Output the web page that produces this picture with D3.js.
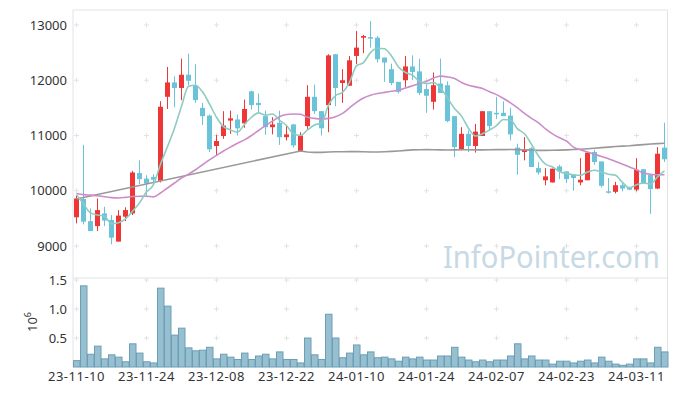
<!DOCTYPE html>
<html>
<head>
<meta charset="utf-8">
<script src="https://cdn.jsdelivr.net/npm/d3@7"></script>
<style>
  body { margin: 0; background: #fff; }
  text { font-family: "Noto Sans", sans-serif; }
</style>
</head>
<body>
<div id="chart"></div>
<script>
// Data
const dates = [
  '23-11-10','23-11-13','23-11-14','23-11-15','23-11-16','23-11-17','23-11-20','23-11-21','23-11-22','23-11-23',
  '23-11-24','23-11-27','23-11-28','23-11-29','23-11-30','23-12-01','23-12-04','23-12-05','23-12-06','23-12-07',
  '23-12-08','23-12-11','23-12-12','23-12-13','23-12-14','23-12-15','23-12-18','23-12-19','23-12-20','23-12-21',
  '23-12-22','23-12-26','23-12-27','23-12-28','24-01-02','24-01-03','24-01-04','24-01-05','24-01-08','24-01-09',
  '24-01-10','24-01-11','24-01-12','24-01-15','24-01-16','24-01-17','24-01-18','24-01-19','24-01-22','24-01-23',
  '24-01-24','24-01-25','24-01-26','24-01-29','24-01-30','24-01-31','24-02-01','24-02-02','24-02-05','24-02-06',
  '24-02-07','24-02-08','24-02-13','24-02-14','24-02-15','24-02-16','24-02-19','24-02-20','24-02-21','24-02-22',
  '24-02-23','24-02-26','24-02-27','24-02-28','24-02-29','24-03-04','24-03-05','24-03-06','24-03-07','24-03-08',
  '24-03-11','24-03-12','24-03-13','24-03-14','24-03-15'
]
const open = [
  9520,9850,9450,9360,9590,9470,9080,9530,9590,10320,
  10220,10250,10180,11700,11960,11860,12100,11900,11500,11360,
  10810,10990,11270,11290,11220,11800,11590,11350,11150,11230,
  10970,11200,10720,11170,11700,11440,11550,12470,11950,11900,
  12440,12770,12780,12770,12410,12200,11970,12000,12250,12160,
  11840,11610,11940,11910,11350,10740,11030,10810,10990,11440,
  11410,11410,11360,10780,10700,10770,10410,10190,10150,10440,
  10350,10290,10150,10190,10700,10530,9990,9980,10100,10070,
  10020,10390,10290,10040,10780
]
const high = [
  9910,10830,9680,9860,9710,9560,9650,9700,10360,10550,
  10280,10300,11620,12240,12070,12390,12480,12290,11590,11380,
  11010,11440,11450,11380,11650,11810,11760,11450,11330,11450,
  11190,11210,11060,11910,11920,11440,12470,12470,12200,12440,
  12890,12820,13070,12800,12410,12300,11970,12440,12450,12390,
  11940,12140,12390,11980,11350,11150,11090,11210,11440,11440,
  11700,11620,11500,10850,10970,10790,10520,10410,10400,10470,
  10350,10290,10590,10700,10740,10530,10230,10160,10150,10070,
  10590,10390,10290,10790,11230
]
const low = [
  9410,9390,9270,9270,9360,9030,9080,9450,9560,10120,
  9910,10140,10150,11480,11510,11640,11910,11590,11190,10700,
  10640,10940,11030,11000,11140,11470,11420,11010,11020,10830,
  10910,10780,10710,11120,11390,11000,11060,11530,11590,11900,
  12290,12490,12590,12320,11970,11910,11760,11880,12000,11730,
  11410,11470,11770,11240,10610,10730,10700,10690,10990,11090,
  11300,11350,10910,10290,10550,10430,10290,10100,10150,10210,
  10140,10000,10100,10190,10470,10060,9950,9950,9990,10010,
  9990,10120,9580,10030,10520
]
const close = [
  9860,9440,9270,9650,9460,9150,9550,9650,10330,10210,
  10130,10200,11520,11960,11860,12100,11990,11640,11350,10750,
  10900,11180,11310,11130,11480,11550,11550,11150,11200,10970,
  11020,10820,11000,11700,11440,11130,12450,11860,12000,12360,
  12590,12800,12760,12380,12320,11950,11790,12250,12150,11770,
  11720,11910,11770,11260,10790,11030,10810,11070,11440,11170,
  11400,11350,11020,10650,10750,10430,10330,10260,10400,10350,
  10210,10230,10200,10690,10520,10090,9970,10100,10040,10020,
  10380,10140,10030,10670,10570
]
const volume = [
  0.11,1.40,0.22,0.36,0.14,0.21,0.17,0.09,0.40,0.24,
  0.09,0.07,1.36,1.05,0.55,0.67,0.33,0.28,0.29,0.34,
  0.14,0.22,0.17,0.13,0.24,0.13,0.19,0.22,0.14,0.26,
  0.13,0.13,0.07,0.50,0.21,0.13,0.91,0.50,0.16,0.24,
  0.38,0.21,0.26,0.16,0.17,0.14,0.10,0.17,0.14,0.17,
  0.12,0.12,0.19,0.19,0.34,0.17,0.12,0.09,0.12,0.09,
  0.12,0.12,0.19,0.40,0.14,0.19,0.12,0.12,0.05,0.10,
  0.10,0.07,0.10,0.12,0.07,0.17,0.10,0.05,0.03,0.05,
  0.14,0.14,0.07,0.34,0.26
].map(v => v * 1e6)
const ma5 = [
  9930,9760,9600,9560,9540,9400,9420,9490,9630,9780,
  9980,10110,10480,10800,11130,11530,11890,11910,11790,11570,
  11330,11160,11100,11060,11200,11330,11410,11370,11390,11280,
  11180,11030,11000,11100,11190,11220,11550,11720,11780,11960,
  12260,12320,12500,12580,12570,12440,12240,12140,12090,11980,
  11940,11960,11860,11680,11490,11350,11130,10990,11030,11100,
  11180,11290,11280,11120,11030,10840,10630,10480,10430,10350,
  10310,10290,10280,10340,10370,10340,10300,10280,10150,10050,
  10110,10140,10120,10250,10360
]
const ma20 = [
  9950,9930,9920,9910,9890,9875,9870,9880,9895,9900,
  9900,9890,9960,10050,10140,10230,10300,10380,10470,10560,
  10640,10720,10790,10860,10920,11000,11090,11180,11260,11340,
  11380,11390,11385,11330,11310,11300,11310,11340,11400,11500,
  11600,11680,11730,11760,11780,11800,11820,11860,11900,11940,
  11980,12040,12075,12060,12030,11960,11910,11880,11850,11790,
  11740,11670,11590,11500,11400,11310,11230,11120,11030,10960,
  10900,10790,10740,10700,10660,10620,10580,10530,10480,10430,
  10380,10320,10300,10290,10290
]
// long average: no values between the first bar and 23-12-27
const ma60 = [
  9850,null,null,null,null,null,null,null,null,null,
  null,null,null,null,null,null,null,null,null,null,
  null,null,null,null,null,null,null,null,null,null,
  null,null,10720,10700,10695,10695,10700,10705,10705,10708,
  10710,10705,10700,10700,10705,10712,10720,10730,10740,10742,
  10745,10742,10740,10738,10740,10742,10742,10740,10740,10742,
  10745,10745,10746,10745,10740,10735,10730,10730,10732,10735,
  10740,10746,10752,10760,10770,10780,10790,10800,10808,10815,
  10825,10835,10845,10852,10860
]
const tickDates = ['23-11-10','23-11-24','23-12-08','23-12-22','24-01-10','24-01-24','24-02-07','24-02-23','24-03-11']
const priceTicks = [9000, 10000, 11000, 12000, 13000]
const volTicks = [0.5e6, 1e6, 1.5e6]

function draw() {
  const dimensions = {
    width: 677,
    height: 396,
    left: 73,
    right: 668,
    top: 10,
    split: 278,
    bottom: 367
  }
  const bars = dates.map((d, i) => ({
    date: d, o: open[i], h: high[i], l: low[i], c: close[i], v: volume[i]
  }))

  const svg = d3.select('#chart')
    .append('svg')
    .attr('width', dimensions.width)
    .attr('height', dimensions.height)

  // Scales
  const xScale = d3.scaleBand()
    .domain(dates)
    .range([dimensions.left, dimensions.right])
  const xc = d => xScale(d) + xScale.bandwidth() / 2
  const yScale = d3.scaleLinear()
    .domain([8421, 13271])
    .range([dimensions.split, dimensions.top])
  const vScale = d3.scaleLinear()
    .domain([0, 1.535e6])
    .range([dimensions.bottom, dimensions.split])

  // watermark
  svg.append('text')
    .attr('x', 443)
    .attr('y', 268)
    .attr('textLength', 217)
    .attr('lengthAdjust', 'spacingAndGlyphs')
    .style('font-size', '31px')
    .style('fill', '#c6d9e4')
    .text('InfoPointer.com')

  // frame
  const frame = svg.append('g')
    .attr('stroke', '#e3e3e3')
    .attr('fill', 'none')
  frame.append('path')
    .attr('d', `M${dimensions.left},${dimensions.bottom}V${dimensions.top}H${dimensions.right - 0.5}V${dimensions.bottom}`)
  frame.append('line')
    .attr('x1', dimensions.left).attr('x2', dimensions.right)
    .attr('y1', dimensions.split).attr('y2', dimensions.split)

  // grid crosses
  const gridYs = priceTicks.map(yScale).concat(volTicks.map(vScale))
  const grid = svg.append('g').attr('stroke', '#e2e2e2')
  tickDates.forEach(d => {
    gridYs.forEach(y => {
      const x = xc(d)
      grid.append('path').attr('d', `M${x - 2.5},${y}H${x + 2.5}M${x},${y - 2.5}V${y + 2.5}`)
    })
  })

  // volume bars
  svg.append('g')
    .selectAll('rect')
    .data(bars)
    .join('rect')
    .attr('x', d => xScale(d.date) + 0.5)
    .attr('y', d => vScale(d.v))
    .attr('width', xScale.bandwidth() - 0.5)
    .attr('height', d => dimensions.bottom - vScale(d.v))
    .attr('fill', '#98bfd0')
    .attr('stroke', '#6b9fb6')
    .attr('stroke-width', 1)

  // candles
  const up = '#ee3636'
  const down = '#6ac3d8'
  const candles = svg.append('g')
    .selectAll('g')
    .data(bars)
    .join('g')
  candles.append('line')
    .attr('x1', d => xc(d.date))
    .attr('x2', d => xc(d.date))
    .attr('y1', d => yScale(d.h))
    .attr('y2', d => yScale(d.l))
    .attr('stroke', d => d.c >= d.o ? up : down)
    .attr('stroke-width', 1)
  candles.append('rect')
    .attr('x', d => xc(d.date) - 2.5)
    .attr('width', 5)
    .attr('y', d => yScale(Math.max(d.o, d.c)))
    .attr('height', d => Math.max(1.5, Math.abs(yScale(d.o) - yScale(d.c))))
    .attr('fill', d => d.c >= d.o ? up : down)

  // moving averages
  const series = [
    { values: ma60, color: '#999999', curve: d3.curveLinear },
    { values: ma20, color: '#cc8cc9', curve: d3.curveMonotoneX },
    { values: ma5, color: '#8dccc2', curve: d3.curveMonotoneX }
  ]
  svg.append('g')
    .selectAll('path')
    .data(series)
    .join('path')
    .attr('d', s => d3.line()
      .x(d => xc(d.date))
      .y(d => yScale(d.v))
      .curve(s.curve)(dates.map((d, i) => ({ date: d, v: s.values[i] })).filter(p => p.v != null)))
    .attr('fill', 'none')
    .attr('stroke', s => s.color)
    .attr('stroke-width', 1.6)

  // axes
  const priceAxis = d3.axisLeft(yScale)
    .tickValues(priceTicks)
    .tickFormat(d3.format('d'))
    .tickSize(0)
    .tickPadding(6)
  const volAxis = d3.axisLeft(vScale)
    .tickValues(volTicks)
    .tickFormat(d => (d / 1e6).toFixed(1))
    .tickSize(0)
    .tickPadding(6)
  const xAxis = d3.axisBottom(xScale)
    .tickValues(tickDates)
    .tickSize(0)
    .tickPadding(5)

  const styleAxis = g => {
    g.select('.domain').remove()
    g.selectAll('text')
      .style('font-size', '13px')
      .style('font-family', '"Noto Sans", sans-serif')
      .attr('fill', '#333')
  }
  svg.append('g')
    .attr('transform', `translate(${dimensions.left},0)`)
    .call(priceAxis).call(styleAxis)
  svg.append('g')
    .attr('transform', `translate(${dimensions.left},0)`)
    .call(volAxis).call(styleAxis)
  svg.append('g')
    .attr('transform', `translate(0,${dimensions.bottom})`)
    .call(xAxis).call(styleAxis)
    .selectAll('text')
    .style('letter-spacing', '0.5px')

  // 10^6 unit label
  const unit = svg.append('text')
    .attr('transform', 'translate(37,322) rotate(-90)')
    .attr('text-anchor', 'middle')
    .style('font-size', '13px')
    .attr('fill', '#333')
  unit.append('tspan').text('10')
  unit.append('tspan').attr('dy', -6).style('font-size', '9px').text('6')
}

draw()
</script>
</body>
</html>
